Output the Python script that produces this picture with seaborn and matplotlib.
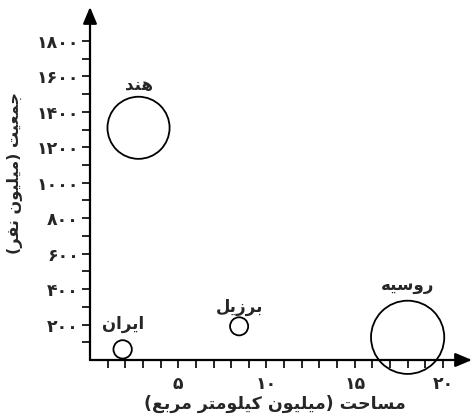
import matplotlib
matplotlib.use("Agg")
import matplotlib.pyplot as plt
import seaborn as sns
import pandas as pd

# ---------------- data ----------------
countries = ["ایران", "برزیل", "هند", "روسیه"]
area_million_km2 = [1.85, 8.45, 2.75, 18.0]
population_million = [60, 190, 1310, 128]
x_tick_values = [5, 10, 15, 20]
y_tick_values = [200, 400, 600, 800, 1000, 1200, 1400, 1600, 1800]
x_label_text = "مساحت (میلیون کیلومتر مربع)"
y_label_text = "جمعیت (میلیون نفر)"

# ---------------- simple Persian shaping ----------------
FORMS = {
    'ا': ('\uFE8D', '\uFE8E', None, None),
    'ب': ('\uFE8F', '\uFE90', '\uFE91', '\uFE92'),
    'ت': ('\uFE95', '\uFE96', '\uFE97', '\uFE98'),
    'ج': ('\uFE9D', '\uFE9E', '\uFE9F', '\uFEA0'),
    'ح': ('\uFEA1', '\uFEA2', '\uFEA3', '\uFEA4'),
    'د': ('\uFEA9', '\uFEAA', None, None),
    'ر': ('\uFEAD', '\uFEAE', None, None),
    'ز': ('\uFEAF', '\uFEB0', None, None),
    'س': ('\uFEB1', '\uFEB2', '\uFEB3', '\uFEB4'),
    'ع': ('\uFEC9', '\uFECA', '\uFECB', '\uFECC'),
    'ف': ('\uFED1', '\uFED2', '\uFED3', '\uFED4'),
    'ل': ('\uFEDD', '\uFEDE', '\uFEDF', '\uFEE0'),
    'م': ('\uFEE1', '\uFEE2', '\uFEE3', '\uFEE4'),
    'ن': ('\uFEE5', '\uFEE6', '\uFEE7', '\uFEE8'),
    'ه': ('\uFEE9', '\uFEEA', '\uFEEB', '\uFEEC'),
    'و': ('\uFEED', '\uFEEE', None, None),
    'ی': ('\uFBFC', '\uFBFD', '\uFBFE', '\uFBFF'),
    'ک': ('\uFB8E', '\uFB8F', '\uFB90', '\uFB91'),
}
MIRROR = {'(': ')', ')': '('}


def shape(text):
    out = []
    for i, c in enumerate(text):
        if c not in FORMS:
            out.append(c)
            continue
        prev = text[i - 1] if i > 0 else ''
        nxt = text[i + 1] if i + 1 < len(text) else ''
        jp = prev in FORMS and FORMS[prev][2] is not None
        jn = FORMS[c][2] is not None and nxt in FORMS
        f = FORMS[c]
        if jp and jn:
            out.append(f[3])
        elif jp:
            out.append(f[1])
        elif jn:
            out.append(f[2])
        else:
            out.append(f[0])
    return ''.join(out)


def rtl(text):
    """Shape Persian text and put it in visual (right-to-left) order."""
    return ''.join(MIRROR.get(c, c) for c in reversed(shape(text)))


PERSIAN_DIGITS = str.maketrans('0123456789', '۰۱۲۳۴۵۶۷۸۹')


def fa_num(v):
    return str(v).translate(PERSIAN_DIGITS)


# ---------------- figure ----------------
sns.set_theme(style="white")
plt.rcParams['font.family'] = ['DejaVu Sans']

W, H = 473, 416
fig = plt.figure(figsize=(W / 100, H / 100), dpi=100)
ax = fig.add_axes([90 / W, 56 / H, (472 - 90) / W, (409 - 56) / H])

df = pd.DataFrame({"country": countries, "area": area_million_km2,
                   "pop": population_million})
marker_sizes = {"ایران": 175, "برزیل": 170, "هند": 2000, "روسیه": 2780}
sns.scatterplot(data=df, x="area", y="pop", size="country", sizes=marker_sizes,
                facecolor="none", edgecolor="black", linewidth=1.3,
                legend=False, ax=ax, zorder=3, clip_on=False)
for coll in ax.collections:
    coll.set_facecolor("none")
    coll.set_edgecolor("black")

ax.set_xlim(0, (472 - 91) / 17.6)
ax.set_ylim(0, (360 - 9) / 0.17625)

# labels above circles (offsets in points)
label_offsets = {"ایران": 18, "برزیل": 14, "هند": 31, "روسیه": 38}
for c, xv, yv in zip(countries, area_million_km2, population_million):
    ax.annotate(rtl(c), (xv, yv), xytext=(0, label_offsets[c]),
                textcoords="offset points", ha="center", va="center",
                fontsize=12, fontweight="bold")

# spines & arrows
for s in ["top", "right", "left", "bottom"]:
    ax.spines[s].set_visible(False)
arrow_style = dict(arrowstyle='-|>,head_length=1.0,head_width=0.42',
                   mutation_scale=10, lw=1.6, color='black',
                   shrinkA=0, shrinkB=0)
ax.annotate('', xy=(1, 0), xytext=(0, 0), xycoords='axes fraction',
            arrowprops=arrow_style)
ax.annotate('', xy=(0, 1), xytext=(0, 0), xycoords='axes fraction',
            arrowprops=arrow_style)

# ticks
ax.set_xticks(x_tick_values)
ax.set_xticklabels([fa_num(v) for v in x_tick_values], fontsize=12.5, fontweight="bold")
ax.set_xticks([v for v in range(1, 21) if v not in x_tick_values], minor=True)
ax.set_yticks(y_tick_values)
ax.set_yticklabels([fa_num(v) for v in y_tick_values], fontsize=12.5, fontweight="bold")
ax.set_yticks([v for v in range(100, 1800, 200)], minor=True)
ax.tick_params(axis='both', which='both', direction='out', length=6, width=1.2,
               color='black', bottom=True, left=True)
ax.tick_params(axis='x', which='major', pad=4.5)
ax.tick_params(axis='y', which='major', pad=2)

ax.set_xlabel(rtl(x_label_text), fontsize=12.5, fontweight="bold")
ax.set_ylabel(rtl(y_label_text), fontsize=11.5, fontweight="bold")
ax.xaxis.set_label_coords(0.485, -0.1)
ax.yaxis.set_label_coords(-0.175, 0.53)

fig.savefig("out.png", dpi=100)
